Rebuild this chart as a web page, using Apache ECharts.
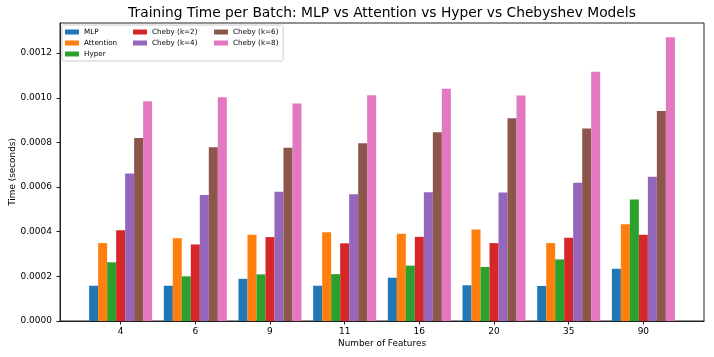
<!DOCTYPE html>
<html>
<head>
<meta charset="utf-8">
<script src="https://cdn.jsdelivr.net/npm/echarts@6/dist/echarts.min.js"></script>
<style>
  html, body { margin: 0; padding: 0; background: #fff; }
  #chart { width: 714px; height: 357px; }
</style>
</head>
<body>
<div id="chart"></div>
<script>
// number of features (x categories)
const features = ["4", "6", "9", "11", "16", "20", "35", "90"];
const yTicks = [0, 0.0002, 0.0004, 0.0006, 0.0008, 0.001, 0.0012];

// seconds per batch
const mlp       = [0.000158, 0.000158, 0.000189, 0.000158, 0.000194, 0.000160, 0.000157, 0.000234];
const attention = [0.000349, 0.000371, 0.000386, 0.000398, 0.000391, 0.000410, 0.000349, 0.000433];
const hyper     = [0.000263, 0.000200, 0.000209, 0.000210, 0.000248, 0.000242, 0.000276, 0.000544];
const chebyK2   = [0.000406, 0.000343, 0.000376, 0.000348, 0.000377, 0.000349, 0.000373, 0.000386];
const chebyK4   = [0.000661, 0.000565, 0.000579, 0.000568, 0.000577, 0.000576, 0.000619, 0.000646];
const chebyK6   = [0.000820, 0.000778, 0.000776, 0.000796, 0.000846, 0.000908, 0.000862, 0.000941];
const chebyK8   = [0.000984, 0.001002, 0.000974, 0.001011, 0.001041, 0.001010, 0.001117, 0.001271];

const seriesDefs = [
  { name: "MLP", data: mlp, color: "#1f77b4" },
  { name: "Attention", data: attention, color: "#ff7f0e" },
  { name: "Hyper", data: hyper, color: "#2ca02c" },
  { name: "Cheby (k=2)", data: chebyK2, color: "#d62728" },
  { name: "Cheby (k=4)", data: chebyK4, color: "#9467bd" },
  { name: "Cheby (k=6)", data: chebyK6, color: "#8c564b" },
  { name: "Cheby (k=8)", data: chebyK8, color: "#e377c2" },
];

const FONT = "DejaVu Sans";
const axisColor = "#222";
const idx = features.map((f, i) => i);

const chart = echarts.init(document.getElementById("chart"), null, { renderer: "canvas" });

const legendText = { fontFamily: FONT, fontSize: 7.2, lineHeight: 8, color: "#000" };
const legendCommon = {
  orient: "vertical",
  top: 28,
  icon: "rect",
  itemWidth: 14,
  itemHeight: 5,
  itemGap: 3,
  textStyle: legendText,
  selectedMode: false,
};

const option = {
  animation: false,
  backgroundColor: "#fff",
  title: {
    text: "Training Time per Batch: MLP vs Attention vs Hyper vs Chebyshev Models",
    left: 382,
    top: 6,
    padding: 0,
    textAlign: "center",
    textStyle: { fontFamily: FONT, fontSize: 13.8, fontWeight: "normal", color: "#000" },
  },
  legend: [
    Object.assign({}, legendCommon, {
      left: 62,
      top: 25,
      z: 5,
      padding: [3, 166, 3, 3],
      backgroundColor: "rgba(255,255,255,0.8)",
      borderColor: "#ccc",
      borderWidth: 1,
      borderRadius: 2,
      data: ["MLP", "Attention", "Hyper"],
    }),
    Object.assign({}, legendCommon, {
      left: 133,
      z: 6,
      padding: 0,
      data: ["Cheby (k=2)", "Cheby (k=4)"],
    }),
    Object.assign({}, legendCommon, {
      left: 214,
      z: 6,
      padding: 0,
      data: ["Cheby (k=6)", "Cheby (k=8)"],
    }),
  ],
  grid: {
    left: 60,
    right: 10,
    top: 23,
    bottom: 36,
    containLabel: false,
    outerBoundsMode: "none",
    show: true,
    borderColor: axisColor,
    borderWidth: 1,
    backgroundColor: "transparent",
  },
  xAxis: {
    type: "value",
    min: -0.812,
    max: 7.812,
    name: "Number of Features",
    nameLocation: "middle",
    nameGap: 18,
    nameMoveOverlap: false,
    nameTextStyle: { fontFamily: FONT, fontSize: 8.9, color: "#000" },
    axisLine: { show: true, onZero: false, lineStyle: { color: axisColor, width: 1 } },
    axisTick: { show: true, customValues: idx, length: 3.5, lineStyle: { color: axisColor } },
    axisLabel: {
      customValues: idx,
      margin: 6,
      fontFamily: FONT,
      fontSize: 9,
      color: "#000",
      formatter: (v) => features[Math.round(v)],
    },
    splitLine: { show: false },
  },
  yAxis: {
    type: "value",
    min: 0,
    max: 0.001335,
    name: "Time (seconds)",
    nameLocation: "middle",
    nameGap: 47,
    nameMoveOverlap: false,
    nameTextStyle: { fontFamily: FONT, fontSize: 8.9, color: "#000", verticalAlign: "middle" },
    axisLine: { show: true, onZero: false, lineStyle: { color: axisColor, width: 1 } },
    axisTick: { show: true, customValues: yTicks, length: 3.5, lineStyle: { color: axisColor } },
    axisLabel: {
      customValues: yTicks,
      margin: 8,
      fontFamily: FONT,
      fontSize: 9,
      color: "#000",
      formatter: (v) => v.toFixed(4),
    },
    splitLine: { show: false },
  },
  series: seriesDefs.map((s) => ({
    name: s.name,
    type: "bar",
    barWidth: 9,
    barGap: "0%",
    itemStyle: { color: s.color },
    data: s.data.map((v, i) => [i, v]),
  })),
};

chart.setOption(option);
</script>
</body>
</html>
